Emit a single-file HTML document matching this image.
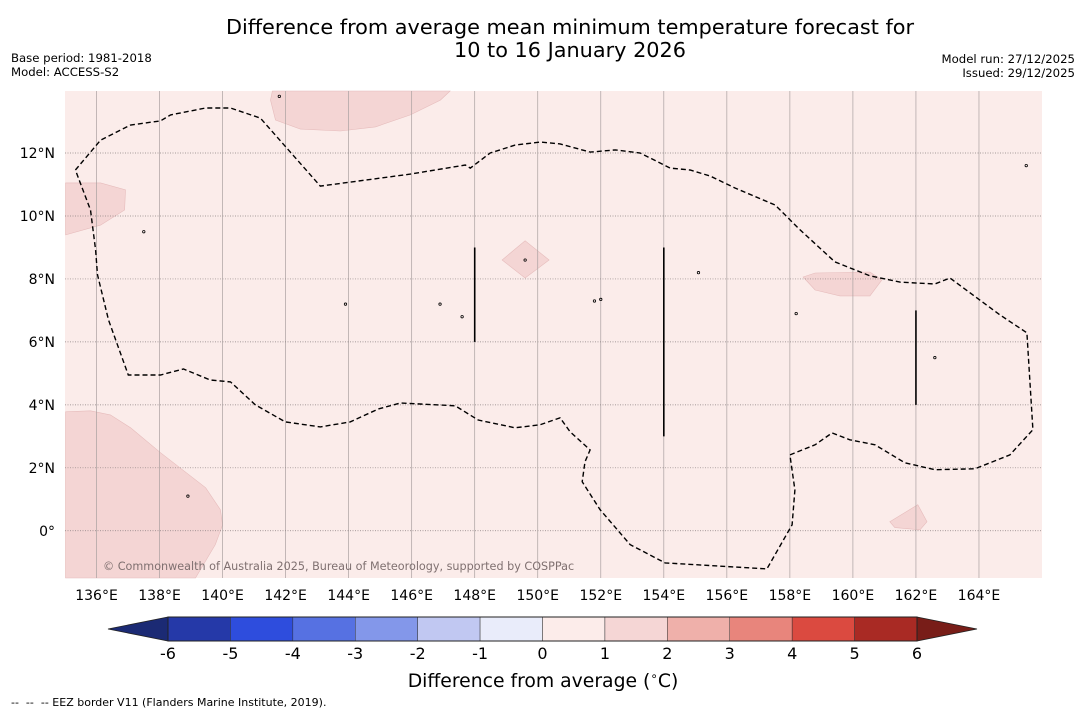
<!DOCTYPE html>
<html><head><meta charset="utf-8"><style>
body{margin:0;background:#fff;font-family:"Liberation Sans","DejaVu Sans",sans-serif;}
svg{display:block}
</style></head><body>
<svg id="c" width="1085" height="713" xmlns="http://www.w3.org/2000/svg" font-family="DejaVu Sans, Liberation Sans, sans-serif">
<text x="570" y="34" text-anchor="middle" font-size="20.8" fill="#000">Difference from average mean minimum temperature forecast for</text>
<text x="570" y="57" text-anchor="middle" font-size="20.8" fill="#000">10 to 16 January 2026</text>
<text x="11" y="62" font-size="11.7">Base period: 1981-2018</text>
<text x="11" y="76" font-size="11.7">Model: ACCESS-S2</text>
<text x="1075" y="63" font-size="11.7" text-anchor="end">Model run: 27/12/2025</text>
<text x="1075" y="77" font-size="11.7" text-anchor="end">Issued: 29/12/2025</text>
<g id="map"></g>
<g id="cbar"></g>
<text x="543" y="687" text-anchor="middle" font-size="18.8">Difference from average (<tspan font-size="12" dy="-7">∘</tspan><tspan dy="7">C)</tspan></text>
<text x="11" y="706" font-size="11" xml:space="preserve">--  --  -- EEZ border V11 (Flanders Marine Institute, 2019).</text>
</svg>
<script>
const lonTicks=[136,138,140,142,144,146,148,150,152,154,156,158,160,162,164];
const latTicks=[12,10,8,6,4,2,0];
const cbLevels=[-6,-5,-4,-3,-2,-1,0,1,2,3,4,5,6];
const cbColors=["#2539a8","#2e4ddd","#5671e2","#8397ea","#c1c8f2","#e9ecfa","#fcecea","#f5d6d5","#efb0aa","#e8857c","#db4a40","#a92a24"];
const eezLon=[135.33,136.13,137.08,138.03,138.35,139.46,140.25,141.2,143.1,145.96,147.7,147.86,148.49,149.28,150.08,150.71,151.66,152.46,153.25,154.2,154.83,155.47,156.26,157.53,158.32,159.43,160.54,161.49,162.6,163.08,164.66,165.52,165.71,164.98,163.87,162.6,161.65,160.7,159.9,159.34,158.8,158.0,158.16,158.07,157.27,154.04,152.93,151.98,151.41,151.5,151.66,151.03,150.71,150.08,149.28,148.11,147.38,145.64,144.94,144.05,143.1,141.99,141.04,140.25,139.61,138.76,138.03,137.01,136.38,136.03,135.97,135.81,135.33];
const eezLat=[11.46,12.41,12.89,13.02,13.21,13.43,13.43,13.11,10.95,11.33,11.62,11.52,12.0,12.25,12.35,12.29,12.03,12.1,12.0,11.52,11.46,11.27,10.89,10.35,9.56,8.54,8.1,7.9,7.84,8.03,6.86,6.29,3.21,2.41,1.97,1.94,2.16,2.73,2.89,3.11,2.73,2.41,1.3,0.19,-1.21,-1.02,-0.44,0.67,1.56,2.19,2.57,3.14,3.59,3.37,3.27,3.52,3.97,4.06,3.87,3.46,3.3,3.46,4.0,4.73,4.79,5.14,4.95,4.95,6.7,8.13,8.92,10.19,11.46];
const patches=[
 {lon:[141.58,147.22,146.91,145.96,144.85,143.74,142.47,141.68,141.52],lat:[13.97,13.97,13.68,13.21,12.83,12.7,12.76,13.05,13.68]},
 {lon:[135.02,136.13,136.92,136.89,136.13,135.02],lat:[11.05,11.05,10.83,10.19,9.71,9.4]},
 {lon:[135.02,135.81,136.44,137.08,138.03,139.46,139.93,140.0,139.77,139.14,135.02],lat:[3.78,3.81,3.68,3.27,2.48,1.37,0.67,0.19,-0.44,-1.5,-1.5]},
 {lon:[148.87,149.6,150.36,149.6],lat:[8.6,9.21,8.6,8.03]},
 {lon:[158.42,158.8,160.54,160.92,160.54,159.59,158.8],lat:[8.06,8.19,8.22,7.97,7.46,7.46,7.65]},
 {lon:[161.17,162.06,162.35,162.13,161.33],lat:[0.29,0.83,0.29,0.03,0.1]}
];
const segLon=[148,154,162];
const segLat0=[9,9,7];
const segLat1=[6,3,4];
const isleLon=[137.5,149.6,151.8,152.0,155.1,158.2,162.6,165.5,141.8,143.9,146.9,147.6,138.9];
const isleLat=[9.5,8.6,7.3,7.35,8.2,6.9,5.5,11.6,13.8,7.2,7.2,6.8,1.1];
const NS="http://www.w3.org/2000/svg";
const X0=65,X1=1042,Y0=91,Y1=578,LON0=135.0,LON1=166.0,LAT0=-1.5,LAT1=13.97;
const sx=l=>X0+(l-LON0)/(LON1-LON0)*(X1-X0);
const sy=l=>Y1-(l-LAT0)/(LAT1-LAT0)*(Y1-Y0);
function mk(t,a,p){const e=document.createElementNS(NS,t);for(const k in a)e.setAttribute(k,a[k]);p.appendChild(e);return e;}
const map=document.getElementById('map');
const bg=mk('rect',{x:X0,y:Y0,width:X1-X0,height:Y1-Y0,fill:'#fbecea'},map);


patches.forEach((p,i)=>{
 const d=p.lon.map((l,j)=>(j?'L':'M')+sx(l).toFixed(1)+','+sy(p.lat[j]).toFixed(1)).join('')+'Z';
 const e=mk('path',{d:d,fill:'#f4d5d4',stroke:'#e6bcbc','stroke-width':0.6},map);
 
 
});
lonTicks.forEach(l=>{
 const e=mk('line',{x1:sx(l),x2:sx(l),y1:Y0,y2:Y1,stroke:'#a9a0a0','stroke-width':0.7},map);
 
 
 const t=mk('text',{x:sx(l),y:Y1+22,'text-anchor':'middle','font-size':14},map);
 t.textContent=l+'°E';
 
 
});
latTicks.forEach(l=>{
 const e=mk('line',{x1:X0,x2:X1,y1:sy(l),y2:sy(l),stroke:'#8a8080','stroke-width':0.7,'stroke-dasharray':'1,1.5'},map);
 
 
 const t=mk('text',{x:X0-10,y:sy(l)+5,'text-anchor':'end','font-size':14},map);
 t.textContent=l===0?'0°':l+'°N';
 
 
});
const eezD=eezLon.map((l,j)=>(j?'L':'M')+sx(l).toFixed(1)+','+sy(eezLat[j]).toFixed(1)).join('');
const eez=mk('path',{d:eezD,fill:'none',stroke:'#000','stroke-width':1.4,'stroke-dasharray':'5,3'},map);


segLon.forEach((l,i)=>{
 const e=mk('line',{x1:sx(l),x2:sx(l),y1:sy(segLat0[i]),y2:sy(segLat1[i]),stroke:'#000','stroke-width':1.6},map);
 
 
});
isleLon.forEach((l,i)=>{
 const e=mk('circle',{cx:sx(l),cy:sy(isleLat[i]),r:1.2,fill:'none',stroke:'#000','stroke-width':0.8},map);
 
 
});
const cr=mk('text',{x:103,y:570,'font-size':11.2,fill:'#7f7070'},map);
cr.textContent='© Commonwealth of Australia 2025, Bureau of Meteorology, supported by COSPPac';


const cb=document.getElementById('cbar');
const CB0=168,CB1=917,CT=617,CBm=641;
const cx=v=>CB0+(v-cbLevels[0])/(cbLevels[cbLevels.length-1]-cbLevels[0])*(CB1-CB0);
const lo=mk('polygon',{points:`${CB0},${CT} 108,${(CT+CBm)/2} ${CB0},${CBm}`,fill:'#1b2a74',stroke:'#222','stroke-width':0.8},cb);


const hi=mk('polygon',{points:`${CB1},${CT} 977,${(CT+CBm)/2} ${CB1},${CBm}`,fill:'#781d18',stroke:'#222','stroke-width':0.8},cb);


cbColors.forEach((c,i)=>{
 const e=mk('rect',{x:cx(cbLevels[i]),y:CT,width:cx(cbLevels[i+1])-cx(cbLevels[i]),height:CBm-CT,fill:c,stroke:'#333','stroke-width':0.5},cb);
 
 
});
mk('rect',{x:CB0,y:CT,width:CB1-CB0,height:CBm-CT,fill:'none',stroke:'#222','stroke-width':1},cb);
cbLevels.forEach(v=>{
 const t=mk('text',{x:cx(v),y:659,'text-anchor':'middle','font-size':16},cb);
 t.textContent=v;
 
 
});
</script>
</body></html>
